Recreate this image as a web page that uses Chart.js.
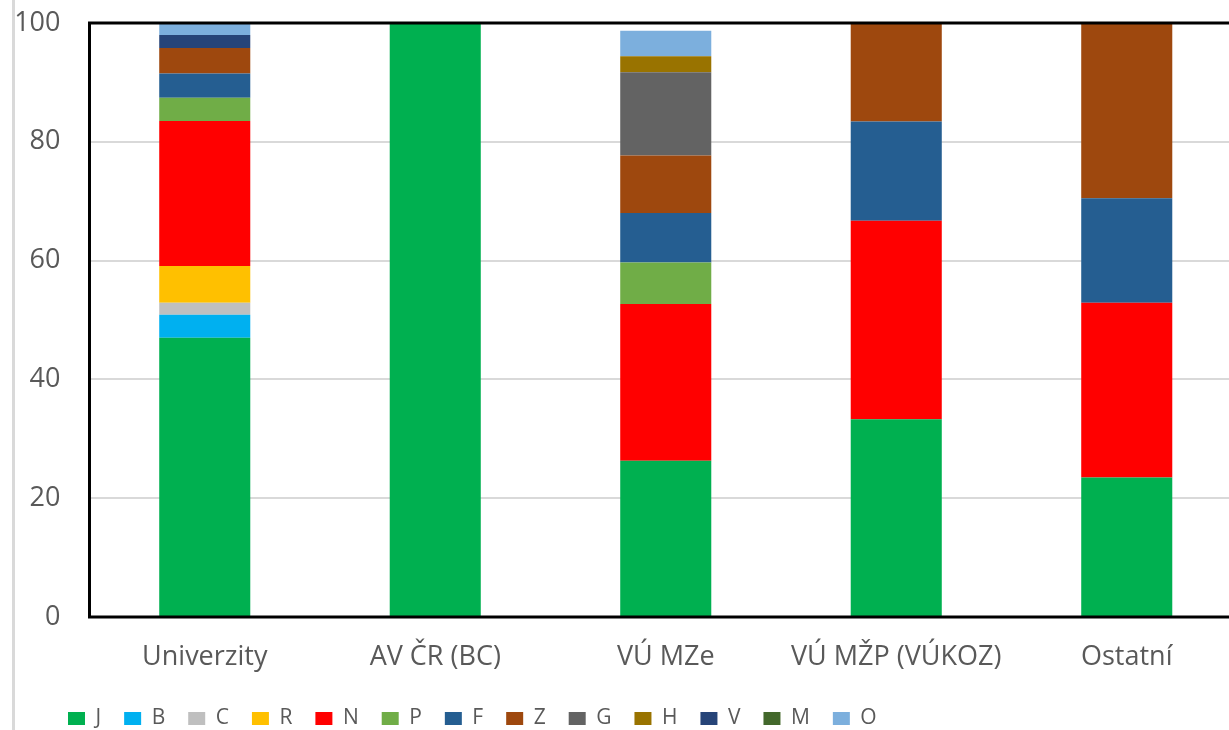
<!DOCTYPE html>
<html>
<head>
<meta charset="utf-8">
<script src="https://cdn.jsdelivr.net/npm/chart.js@4.4.1/dist/chart.umd.min.js"></script>
<style>
  html, body { margin: 0; padding: 0; background: #fff; overflow: hidden; }
  canvas { display: block; }
</style>
</head>
<body>
<canvas id="typyChart" width="1250" height="740"></canvas>
<script>
// categories and tick labels
const categories = ['Univerzity', 'AV ČR (BC)', 'VÚ MZe', 'VÚ MŽP (VÚKOZ)', 'Ostatní'];
const yTicks = [0, 20, 40, 60, 80, 100];

// series values (percent)
const J = [47.0, 100, 26.3, 33.3, 23.5];
const B = [3.9, 0, 0, 0, 0];
const C = [2.0, 0, 0, 0, 0];
const R = [6.2, 0, 0, 0, 0];
const N = [24.4, 0, 26.4, 33.4, 29.4];
const P = [3.9, 0, 7.0, 0, 0];
const F = [4.1, 0, 8.3, 16.7, 17.6];
const Z = [4.3, 0, 9.7, 16.6, 29.5];
const G = [0, 0, 14.0, 0, 0];
const H = [0, 0, 2.7, 0, 0];
const V = [2.2, 0, 0, 0, 0];
const M = [0, 0, 0, 0, 0];
const O = [2.0, 0, 4.3, 0, 0];

const seriesNames = ['J', 'B', 'C', 'R', 'N', 'P', 'F', 'Z', 'G', 'H', 'V', 'M', 'O'];
const seriesData = [J, B, C, R, N, P, F, Z, G, H, V, M, O];
const seriesColors = ['#00b050', '#00b0f0', '#bfbfbf', '#ffc000', '#ff0000', '#70ad47',
                      '#255e91', '#9e480e', '#636363', '#997300', '#264478', '#43682b', '#7cafdd'];

const textColor = '#595959';

const datasets = seriesNames.map(function(name, i) {
    return {
        label: name,
        data: seriesData[i],
        backgroundColor: seriesColors[i],
        borderWidth: 0,
        categoryPercentage: 1.0,
        barPercentage: 0.395
    };
});

// outer frame of the excel chart + black plot box
const framePlugin = {
    id: 'framePlugin',
    afterLayout: function(chart) {
        // legend starts further right than the y axis box
        if (chart.legend) {
            chart.legend.left += 35;
            chart.legend.right += 35;
        }
    },
    beforeDraw: function(chart) {
        const ctx = chart.ctx;
        ctx.save();
        ctx.fillStyle = '#ffffff';
        ctx.fillRect(0, 0, chart.width, chart.height);
        ctx.fillStyle = '#d9d9d9';
        ctx.fillRect(12, 0, 3, chart.height);
        ctx.restore();
    },
    afterDraw: function(chart) {
        const ctx = chart.ctx;
        const a = chart.chartArea;
        ctx.save();
        ctx.strokeStyle = '#000000';
        ctx.lineWidth = 3;
        ctx.strokeRect(a.left, a.top, a.right - a.left, a.bottom - a.top);
        ctx.restore();
    }
};

const ctx = document.getElementById('typyChart').getContext('2d');
const typyChart = new Chart(ctx, {
    type: 'bar',
    data: {
        labels: categories,
        datasets: datasets
    },
    options: {
        responsive: false,
        animation: false,
        layout: {
            padding: { left: 10, right: 8, top: 23, bottom: 1 }
        },
        scales: {
            x: {
                stacked: true,
                grid: { display: false, drawTicks: false },
                border: { display: false },
                ticks: {
                    color: textColor,
                    font: { family: 'Open Sans', size: 27 },
                    padding: 24,
                    maxRotation: 0,
                    autoSkip: false
                },
                afterFit: function(scale) { scale.height = 68; }
            },
            y: {
                stacked: true,
                min: 0,
                max: 100,
                afterBuildTicks: function(scale) {
                    scale.ticks = yTicks.map(function(v) { return { value: v }; });
                },
                grid: {
                    color: '#d9d9d9',
                    lineWidth: 2,
                    drawTicks: true,
                    tickLength: 29,
                    tickColor: 'rgba(0,0,0,0)'
                },
                border: { display: false },
                ticks: {
                    color: textColor,
                    font: { family: 'Open Sans', size: 27 },
                    padding: 0
                },
                afterFit: function(scale) { scale.width = 79.5; }
            }
        },
        plugins: {
            legend: {
                position: 'bottom',
                align: 'start',
                labels: {
                    boxWidth: 17,
                    boxHeight: 13,
                    padding: 23,
                    color: textColor,
                    font: { family: 'Open Sans', size: 21 }
                }
            },
            tooltip: { enabled: false }
        }
    },
    plugins: [framePlugin]
});
</script>
</body>
</html>
